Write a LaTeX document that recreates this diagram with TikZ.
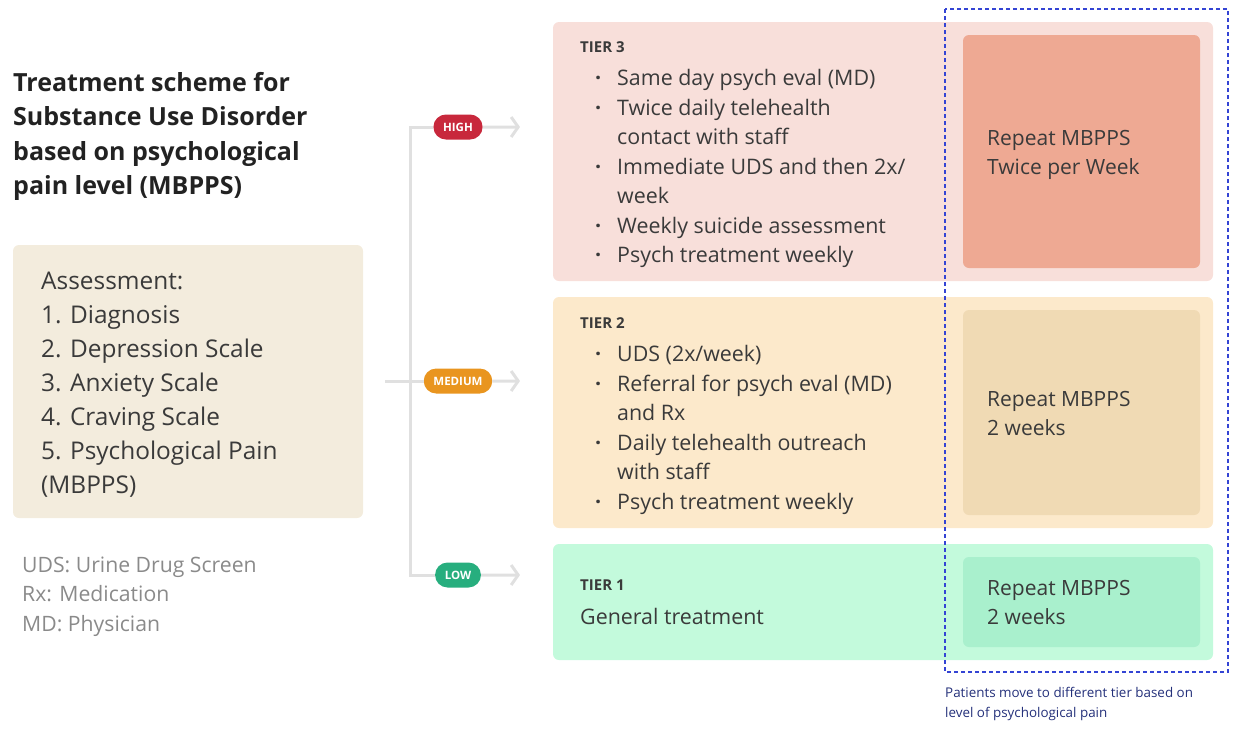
\documentclass[tikz,border=0pt]{standalone}
\usepackage{fontspec}
\setmainfont{Open Sans}
\usetikzlibrary{shapes.misc, arrows.meta}

\definecolor{highred}{HTML}{C8283C}
\definecolor{medorange}{HTML}{E9951F}
\definecolor{lowgreen}{HTML}{27AE7E}
\definecolor{assessbg}{HTML}{F3ECDD}
\definecolor{tierthreebg}{HTML}{F8DFDA}
\definecolor{tierthreein}{HTML}{EEA993}
\definecolor{tiertwobg}{HTML}{FCE9CB}
\definecolor{tiertwoin}{HTML}{F0DAB4}
\definecolor{tieronebg}{HTML}{C3FADC}
\definecolor{tieronein}{HTML}{A9F0CD}
\definecolor{linegray}{HTML}{E0E0E0}
\definecolor{textdark}{HTML}{3A3A3A}
\definecolor{titledark}{HTML}{222222}
\definecolor{legendgray}{HTML}{8A8A8A}
\definecolor{dashblue}{HTML}{3444D4}
\definecolor{captionblue}{HTML}{24307A}

\newcommand{\bul}{\makebox[22pt][l]{\bfseries·}}

\tikzset{
  badge/.style={rounded rectangle, minimum height=25pt, inner xsep=9pt, inner ysep=0pt,
    text=white, font=\fontsize{11.5}{11.5}\selectfont\bfseries},
  conn/.style={draw=linegray, line width=3pt},
  txt/.style={anchor=base west, inner sep=0pt, text=textdark},
  panel/.style={rounded corners=6pt},
}

\begin{document}
\begin{tikzpicture}[x=1pt, y=-1pt]
    \useasboundingbox (0,0) rectangle (1233,729);

    % title and assessment
    \node[txt, text=titledark] (title) at (13,91.5) {\fontsize{25}{34.3}\selectfont\bfseries
      \begin{tabular}[t]{@{}l@{}}Treatment scheme for\\ Substance Use Disorder\\ based on psychological\\ pain level (MBPPS)\end{tabular}};
    \fill[assessbg, panel] (13,245) rectangle (363,518);
    \node[txt] (assess) at (41,289) {\fontsize{24.4}{34}\selectfont
      \begin{tabular}[t]{@{}l@{}}Assessment:\\ 1. Diagnosis\\ 2. Depression Scale\\ 3. Anxiety Scale\\ 4. Craving Scale\\ 5. Psychological Pain\\ (MBPPS)\end{tabular}};
    \node[txt, text=legendgray] (legend) at (22,572) {\fontsize{21.2}{29.5}\selectfont
      \begin{tabular}[t]{@{}l@{}}UDS: Urine Drug Screen\\ Rx: Medication\\ MD: Physician\end{tabular}};

    % tier panels
    \fill[tierthreebg, panel] (553,22) rectangle (1213,281);
    \fill[tierthreein, panel] (963,35) rectangle (1200,268);
    \fill[tiertwobg, panel] (553,297) rectangle (1213,528);
    \fill[tiertwoin, panel] (963,310) rectangle (1200,515);
    \fill[tieronebg, panel] (553,544) rectangle (1213,660);
    \fill[tieronein, panel] (963,557) rectangle (1200,647);

    % branches
    \coordinate (in) at (385,381);
    \coordinate (fork) at (410,381);
    \node[badge, fill=highred] (high) at (458,127) {HIGH};
    \node[badge, fill=medorange] (medium) at (458,381) {MEDIUM};
    \node[badge, fill=lowgreen] (low) at (458,575) {LOW};
    \draw[conn] (high.west) -| (fork) |- (low.west);
    \draw[conn] (in) -- (medium.west);
    \foreach \lvl/\yy in {high/127, medium/381, low/575} {
        \coordinate (\lvl end) at (520,\yy);
        \draw[conn, -{Straight Barb[length=7pt, width=20pt]}] (\lvl) -- (\lvl end);
    }

    % tier 3
    \node[txt] (t3head) at (580,52.5) {\fontsize{15}{15}\selectfont\bfseries TIER 3};
    \node[txt] (t3list) at (595,85.5) {\fontsize{21.4}{29.5}\selectfont
      \begin{tabular}[t]{@{}l@{}}\bul Same day psych eval (MD)\\ \bul Twice daily telehealth\\ \hspace{22pt}contact with staff\\
      \bul Immediate UDS and then 2x/\\ \hspace{22pt}week\\ \bul Weekly suicide assessment\\ \bul Psych treatment weekly\end{tabular}};
    \node[txt] (t3rep) at (987,145.5) {\fontsize{21}{29}\selectfont
      \begin{tabular}[t]{@{}l@{}}Repeat MBPPS\\ Twice per Week\end{tabular}};

    % tier 2
    \node[txt] (t2head) at (580,328.5) {\fontsize{15}{15}\selectfont\bfseries TIER 2};
    \node[txt] (t2list) at (595,361.5) {\fontsize{21.4}{29.5}\selectfont
      \begin{tabular}[t]{@{}l@{}}\bul UDS (2x/week)\\ \bul Referral for psych eval (MD)\\ \hspace{22pt}and Rx\\
      \bul Daily telehealth outreach\\ \hspace{22pt}with staff\\ \bul Psych treatment weekly\end{tabular}};
    \node[txt] (t2rep) at (987,406.5) {\fontsize{21}{29}\selectfont
      \begin{tabular}[t]{@{}l@{}}Repeat MBPPS\\ 2 weeks\end{tabular}};

    % tier 1
    \node[txt] (t1head) at (580,590.5) {\fontsize{15}{15}\selectfont\bfseries TIER 1};
    \node[txt] (t1text) at (580,624.5) {\fontsize{21.4}{21}\selectfont General treatment};
    \node[txt] (t1rep) at (987,595.5) {\fontsize{21}{29}\selectfont
      \begin{tabular}[t]{@{}l@{}}Repeat MBPPS\\ 2 weeks\end{tabular}};

    % moving between tiers
    \draw[dashblue, line width=2.6pt, dash pattern=on 4pt off 3pt] (945,9) rectangle (1228,672);
    \node[txt, text=captionblue] (note) at (945,697) {\fontsize{13.4}{20}\selectfont
      \begin{tabular}[t]{@{}l@{}}Patients move to different tier based on\\ level of psychological pain\end{tabular}};
\end{tikzpicture}
\end{document}
